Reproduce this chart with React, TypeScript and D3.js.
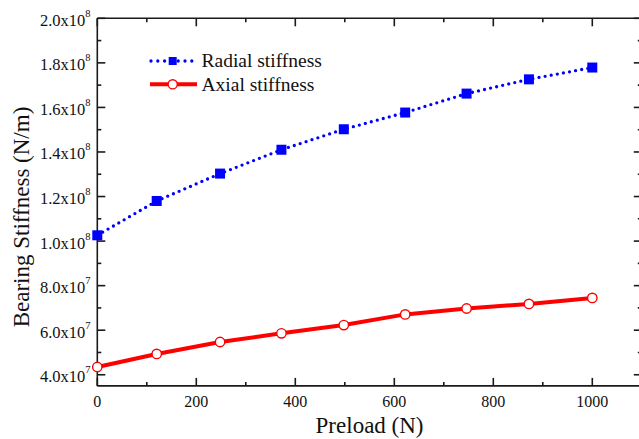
import React from "react";
import * as d3 from "d3";

const preload = [0, 120, 248, 372, 498, 622, 746, 872, 1000];
const radialStiffness = [1.026e8, 1.18e8, 1.303e8, 1.41e8, 1.502e8, 1.577e8, 1.662e8, 1.726e8, 1.779e8];
const axialStiffness = [4.35e7, 4.935e7, 5.47e7, 5.86e7, 6.23e7, 6.71e7, 6.975e7, 7.18e7, 7.45e7];
const xTicks = [0, 200, 400, 600, 800, 1000];
const xMinor = [100, 300, 500, 700, 900];
const yTicks = [4e7, 6e7, 8e7, 1e8, 1.2e8, 1.4e8, 1.6e8, 1.8e8, 2e8];
const yMinor = [5e7, 7e7, 9e7, 1.1e8, 1.3e8, 1.5e8, 1.7e8, 1.9e8];
const seriesNames = ["Radial stiffness", "Axial stiffness"];
const xTitle = "Preload (N)";
const yTitle = "Bearing Stiffness (N/m)";

const W = 639;
const H = 439;
const left = 97.3;
const right = 641.8;
const top = 18.3;
const bottom = 385.9;
const FONT = "Liberation Serif, Times New Roman, serif";

function yLabel(v: number) {
  const exp = Math.floor(Math.log10(v));
  const mant = (v / Math.pow(10, exp)).toFixed(1);
  return { mant, exp };
}

export default function App() {
  const x = d3.scaleLinear().domain([0, 1100]).range([left, right]);
  const y = d3.scaleLinear().domain([3.5e7, 2.0e8]).range([bottom, top]);

  const line = d3
    .line<number>()
    .x((_, i) => x(preload[i]))
    .y((d) => y(d));

  const radialPath = line(radialStiffness) || "";
  const axialPath = line(axialStiffness) || "";

  const axisColor = "#1a1a1a";
  const sw = 1.6;
  const sq = 10;
  const ts = { fontFamily: FONT };

  return (
    <svg
      width={W}
      height={H}
      style={{ position: "absolute", left: 0, top: 0, background: "#fff" }}
    >
      <rect x={0} y={0} width={W} height={H} fill="#fff" />
      <g stroke={axisColor} strokeWidth={sw} fill="none">
        <line x1={left} y1={bottom} x2={right} y2={bottom} />
        <line x1={left} y1={top} x2={right} y2={top} />
        <line x1={left} y1={top} x2={left} y2={bottom} />
        <line x1={right} y1={top} x2={right} y2={bottom} />
        {xTicks.map((t) => (
          <g key={"xt" + t}>
            <line x1={x(t)} x2={x(t)} y1={bottom} y2={bottom - 8} />
            <line x1={x(t)} x2={x(t)} y1={top} y2={top + 8} />
          </g>
        ))}
        {xMinor.map((t) => (
          <g key={"xm" + t}>
            <line x1={x(t)} x2={x(t)} y1={bottom} y2={bottom - 4} />
            <line x1={x(t)} x2={x(t)} y1={top} y2={top + 4} />
          </g>
        ))}
        {yTicks.map((t) => (
          <g key={"yt" + t}>
            <line x1={left} x2={left + 8} y1={y(t)} y2={y(t)} />
            <line x1={right} x2={right - 8} y1={y(t)} y2={y(t)} />
          </g>
        ))}
        {yMinor.map((t) => (
          <g key={"ym" + t}>
            <line x1={left} x2={left + 4} y1={y(t)} y2={y(t)} />
            <line x1={right} x2={right - 4} y1={y(t)} y2={y(t)} />
          </g>
        ))}
      </g>
      {xTicks.map((t) => (
        <text key={"xl" + t} x={x(t)} y={bottom + 21.5} textAnchor="middle" fontSize={16} fill="#111" style={ts}>
          {t}
        </text>
      ))}
      {yTicks.map((t) => {
        const { mant, exp } = yLabel(t);
        return (
          <text key={"yl" + t} x={90.5} y={y(t) + 7.5} textAnchor="end" fontSize={16.5} fill="#111" style={ts}>
            {mant}x10
            <tspan fontSize={10.5} dy={-9}>
              {exp}
            </tspan>
          </text>
        );
      })}
      <text x={(left + right) / 2} y={433} textAnchor="middle" fontSize={23} fill="#111" style={ts}>
        {xTitle}
      </text>
      <text
        transform={`translate(29,217) rotate(-90)`}
        textAnchor="middle"
        fontSize={23}
        fill="#111"
        style={ts}
      >
        {yTitle}
      </text>
      <path
        d={radialPath}
        fill="none"
        stroke="#0000ff"
        strokeWidth={3.3}
        strokeDasharray="0 6.2"
        strokeLinecap="round"
      />
      {radialStiffness.map((v, i) => (
        <rect
          key={"r" + i}
          x={x(preload[i]) - sq / 2}
          y={y(v) - sq / 2}
          width={sq}
          height={sq}
          fill="#0000ff"
        />
      ))}
      <path d={axialPath} fill="none" stroke="#ff0000" strokeWidth={4} strokeLinejoin="round" />
      {axialStiffness.map((v, i) => (
        <circle
          key={"a" + i}
          cx={x(preload[i])}
          cy={y(v)}
          r={4.7}
          fill="#fff"
          stroke="#ff0000"
          strokeWidth={1.4}
        />
      ))}
      <line
        x1={151}
        x2={196}
        y1={61}
        y2={61}
        stroke="#0000ff"
        strokeWidth={3.3}
        strokeDasharray="0 6.8"
        strokeLinecap="round"
      />
      <rect x={172.7 - 4} y={61 - 4} width={8} height={8} fill="#0000ff" />
      <text x={201.5} y={67} fontSize={19.5} fill="#111" style={ts}>
        {seriesNames[0]}
      </text>
      <line x1={150} x2={197} y1={84.3} y2={84.3} stroke="#ff0000" strokeWidth={4} />
      <circle cx={172.7} cy={84.3} r={4.6} fill="#fff" stroke="#ff0000" strokeWidth={1.4} />
      <text x={201.5} y={91} fontSize={19.5} fill="#111" style={ts}>
        {seriesNames[1]}
      </text>
    </svg>
  );
}
